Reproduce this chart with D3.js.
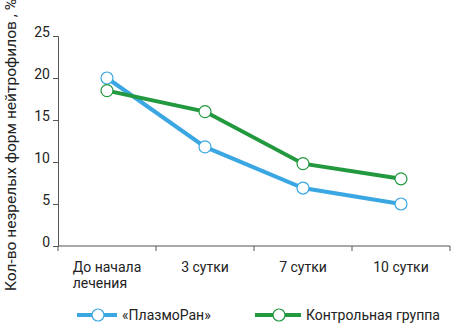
<!DOCTYPE html>
<html lang="ru">
<head>
<meta charset="UTF-8">
<title>Нейтрофилы</title>
<script src="https://cdn.jsdelivr.net/npm/d3@7"></script>
<style>
  body { margin: 0; background: #fff; }
  text { font-family: "Roboto", "Liberation Sans", sans-serif; fill: #222; }
</style>
</head>
<body>
<svg width="451" height="324"></svg>
<script>
// данные
var categories = ['До начала\nлечения', '3 сутки', '7 сутки', '10 сутки'];
var plazmoran = [20, 11.8, 6.9, 5.0];
var control = [18.5, 16.0, 9.8, 8.0];
var yTicks = [0, 5, 10, 15, 20, 25];
var seriesNames = ['«ПлазмоРан»', 'Контрольная группа'];
var colors = ['#3aa7e2', '#22993f'];

var svg = d3.select('svg');
var mLeft = 58, mRight = 450, mTop = 36, mBottom = 246;

var x = d3.scaleBand().domain(categories).range([mLeft, mRight]);
var y = d3.scaleLinear().domain([0, 25]).range([mBottom, mTop]);

// ось Y
var yAxis = svg.append('g')
    .attr('transform', 'translate(' + mLeft + ',0)')
    .call(d3.axisLeft(y).tickValues(yTicks).tickSize(5).tickPadding(3));
yAxis.select('.domain').attr('stroke', '#555');
yAxis.selectAll('line').attr('stroke', '#555');
yAxis.selectAll('text').attr('font-size', 14).attr('font-family', null)
    .attr('fill', '#222').attr('dy', '0.05em');

// ось X
var xAxis = svg.append('g')
    .attr('transform', 'translate(0,' + mBottom + ')');
xAxis.append('line').attr('x1', mLeft).attr('x2', mRight).attr('stroke', '#555');
xAxis.selectAll('.tk')
    .data(categories.concat([null]))
    .enter().append('line')
    .attr('x1', function (d, i) { return mLeft + i * x.bandwidth(); })
    .attr('x2', function (d, i) { return mLeft + i * x.bandwidth(); })
    .attr('y1', 0).attr('y2', 5)
    .attr('stroke', '#555');

categories.forEach(function (c) {
    var lines = c.split('\n');
    var t = xAxis.append('text').attr('font-size', 14).attr('y', 26);
    lines.forEach(function (l, i) {
        t.append('tspan').attr('dy', i ? 16 : 0).text(l);
    });
    var w = t.select('tspan').node().getComputedTextLength();
    var x0 = x(c) + x.bandwidth() / 2 - w / 2;
    t.selectAll('tspan').attr('x', x0);
});

// подпись оси Y
svg.append('text')
    .attr('transform', 'translate(16,145) rotate(-90)')
    .attr('text-anchor', 'middle')
    .attr('font-size', 14)
    .attr('textLength', 292)
    .attr('lengthAdjust', 'spacingAndGlyphs')
    .text('Кол-во незрелых форм нейтрофилов , %');

// линии
var line = d3.line()
    .x(function (d, i) { return x(categories[i]) + x.bandwidth() / 2; })
    .y(function (d) { return y(d); });

[plazmoran, control].forEach(function (s, k) {
    svg.append('path')
        .datum(s)
        .attr('d', line)
        .attr('fill', 'none')
        .attr('stroke', colors[k])
        .attr('stroke-width', 4);
});
[plazmoran, control].forEach(function (s, k) {
    svg.selectAll('.m' + k)
        .data(s)
        .enter().append('circle')
        .attr('cx', function (d, i) { return x(categories[i]) + x.bandwidth() / 2; })
        .attr('cy', function (d) { return y(d); })
        .attr('r', 6)
        .attr('fill', '#fff')
        .attr('stroke', colors[k])
        .attr('stroke-width', 1.2);
});

// легенда
var legendX = [77, 255], legendW = [40, 46];
seriesNames.forEach(function (n, k) {
    var g = svg.append('g').attr('transform', 'translate(' + legendX[k] + ',315)');
    g.append('line').attr('x1', 0).attr('x2', legendW[k]).attr('stroke', colors[k]).attr('stroke-width', 4);
    g.append('circle').attr('cx', legendW[k] / 2 + 1).attr('r', 6).attr('fill', '#fff').attr('stroke', colors[k]).attr('stroke-width', 1.2);
    g.append('text').attr('x', legendW[k] + 5).attr('dy', '0.35em').attr('font-size', 14).text(n);
});
</script>
</body>
</html>
